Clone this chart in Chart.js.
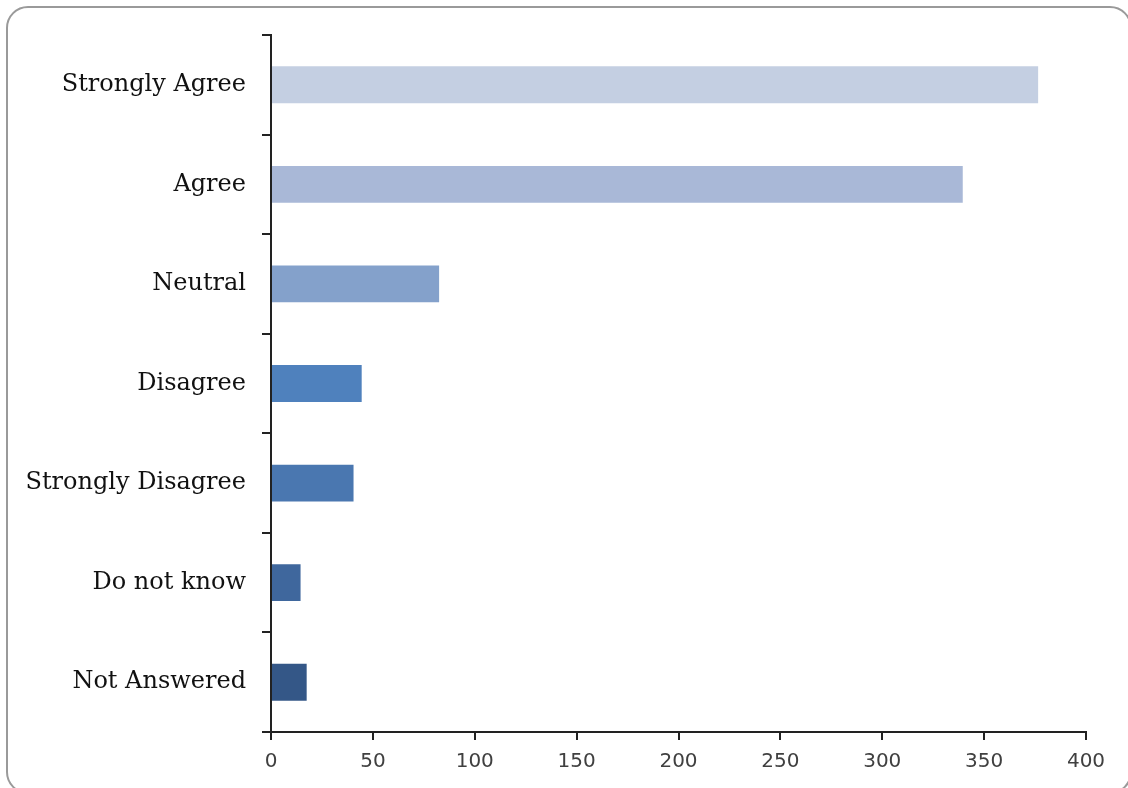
<!DOCTYPE html>
<html>
<head>
<meta charset="utf-8">
<script src="https://cdn.jsdelivr.net/npm/chart.js@4"></script>
<style>
  html, body { margin: 0; padding: 0; background: #fff; overflow: hidden; }
  #wrap { position: relative; width: 1128px; height: 788px; }
  #frame {
    position: absolute; left: 6px; top: 6px; width: 1126px; height: 788px;
    border: 2px solid #9a9a9a; border-radius: 22px; box-sizing: border-box;
  }
  #chart { position: absolute; left: 0; top: 0; }
</style>
</head>
<body>
<div id="wrap">
  <div id="frame"></div>
  <canvas id="chart" width="1128" height="788"></canvas>
</div>
<script>
const answers = ['Strongly Agree', 'Agree', 'Neutral', 'Disagree', 'Strongly Disagree', 'Do not know', 'Not Answered'];
const counts = [377, 340, 83, 45, 41, 15, 18];
const barColors = ['#C4CFE2', '#A9B8D7', '#84A1CB', '#4F81BD', '#4A77B0', '#3F679D', '#345787'];
const xTicks = [0, 50, 100, 150, 200, 250, 300, 350, 400];

const ctx = document.getElementById('chart').getContext('2d');

new Chart(ctx, {
  type: 'bar',
  data: {
    labels: answers,
    datasets: [{
      data: counts,
      backgroundColor: barColors,
      borderColor: 'rgba(255,255,255,0.35)',
      borderWidth: 1,
      categoryPercentage: 1,
      barPercentage: 0.39
    }]
  },
  options: {
    indexAxis: 'y',
    responsive: false,
    animation: false,
    layout: { padding: { top: 35, right: 42, left: 0, bottom: 0 } },
    plugins: {
      legend: { display: false },
      tooltip: { enabled: false }
    },
    scales: {
      y: {
        grid: {
          offset: true,
          drawOnChartArea: false,
          tickLength: 9,
          color: '#222',
          lineWidth: 2
        },
        border: { display: true, color: '#222', width: 2 },
        ticks: {
          color: '#111',
          padding: 16,
          font: { family: 'DejaVu Serif', size: 24 }
        },
        afterFit: function (scale) { scale.width = 271; }
      },
      x: {
        min: 0,
        max: 400,
        afterBuildTicks: function (scale) {
          scale.ticks = xTicks.map(v => ({ value: v }));
        },
        grid: {
          drawOnChartArea: false,
          tickLength: 8,
          color: '#222',
          lineWidth: 2
        },
        border: { display: true, color: '#222', width: 2 },
        ticks: {
          color: '#404040',
          padding: 10,
          font: { family: 'DejaVu Sans', size: 20 }
        },
        afterFit: function (scale) { scale.height = 56; }
      }
    }
  }
});
</script>
</body>
</html>
